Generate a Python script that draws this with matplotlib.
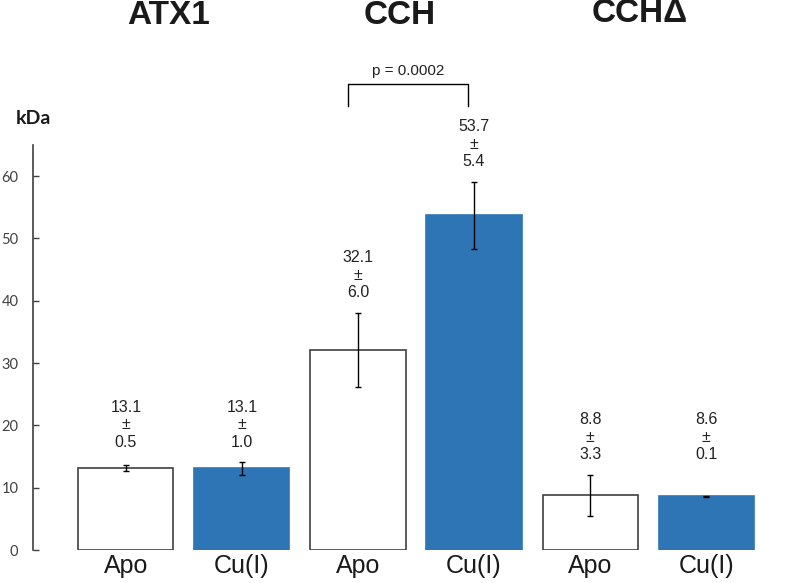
import matplotlib
matplotlib.use("Agg")
import matplotlib.pyplot as plt
from matplotlib import font_manager as fm
import numpy as np

# ---- data ----
groups = ["ATX1", "CCH", "CCHΔ"]
conditions = ["Apo", "Cu(I)", "Apo", "Cu(I)", "Apo", "Cu(I)"]
means = [13.1, 13.1, 32.1, 53.7, 8.8, 8.6]
sds = [0.5, 1.0, 6.0, 5.4, 3.3, 0.1]
yticks = [0, 10, 20, 30, 40, 50, 60]
p_text = "p = 0.0002"
y_label = "kDa"

names = {f.name for f in fm.fontManager.ttflist}
arial = "Liberation Sans"
calib = "Lato" if "Lato" in names else "DejaVu Sans"

blue = "#2E75B6"
edge = "#404040"

fig = plt.figure(figsize=(8, 5.83), dpi=100)
ax = fig.add_axes([33/800, 33/583, 737/800, 405/583])

x = np.arange(len(means))
face = ["white" if c == "Apo" else blue for c in conditions]
edges = [edge if c == "Apo" else blue for c in conditions]
ax.bar(x, means, width=0.82, color=face, edgecolor=edges, linewidth=1.2, zorder=2)
ax.errorbar(x, means, yerr=sds, fmt="none", ecolor="black", elinewidth=1.0,
            capsize=2, capthick=1.0, zorder=3)

ax.set_xlim(-0.8, 5.55)
ax.set_ylim(0, 65)
ax.set_yticks(yticks)
ax.set_xticks(x)
ax.set_xticklabels(conditions, fontsize=18, family=arial, color="#1a1a1a")
ax.tick_params(axis="x", length=0, pad=3)
ax.tick_params(axis="y", direction="in", length=4, width=1, color=edge,
               labelcolor="#404040", labelsize=10.5, pad=10.5)
for lab in ax.get_yticklabels():
    lab.set_family(calib)
for s in ["top", "right", "bottom"]:
    ax.spines[s].set_visible(False)
ax.spines["left"].set_color(edge)
ax.spines["left"].set_linewidth(1.2)

# value labels
tops = [m + s for m, s in zip(means, sds)]
for i in range(len(means)):
    g = i // 2
    pair = tops[2*g:2*g+2]
    base = max(pair) if abs(pair[0] - pair[1]) < 5 else tops[i]
    ax.annotate(f"{means[i]:.1f}\n±\n{sds[i]:.1f}", xy=(x[i], base),
                xytext=(0, 9), textcoords="offset points", ha="center", va="bottom",
                fontsize=11.5, family=arial, color="#222222", linespacing=1.2)

# group titles
title_px = [(169, 16), (400, 16), (640, 14)]
for (px, py), g in zip(title_px, groups):
    fig.text(px/800, 1 - py/583, g, ha="center", va="center", fontsize=24,
             fontweight="bold", family=[arial, "DejaVu Sans"], color="#1a1a1a")

# kDa label
fig.text(33/800, 1 - 119/583, y_label, ha="center", va="center", fontsize=14,
         fontweight="bold", family=calib, color="#1a1a1a")

# significance bracket
bx0, bx1 = x[2] - 0.09, x[3] - 0.05
yb0, yb1 = 71.3, 74.8
ax.plot([bx0, bx0, bx1, bx1], [yb0, yb1, yb1, yb0], color="black", lw=1.0,
        clip_on=False, solid_joinstyle="round")
ax.text((bx0 + bx1) / 2, yb1 + 1.0, p_text, ha="center", va="bottom",
        fontsize=11, family=arial, color="#222222", clip_on=False)

fig.savefig("out.png", dpi=100)
